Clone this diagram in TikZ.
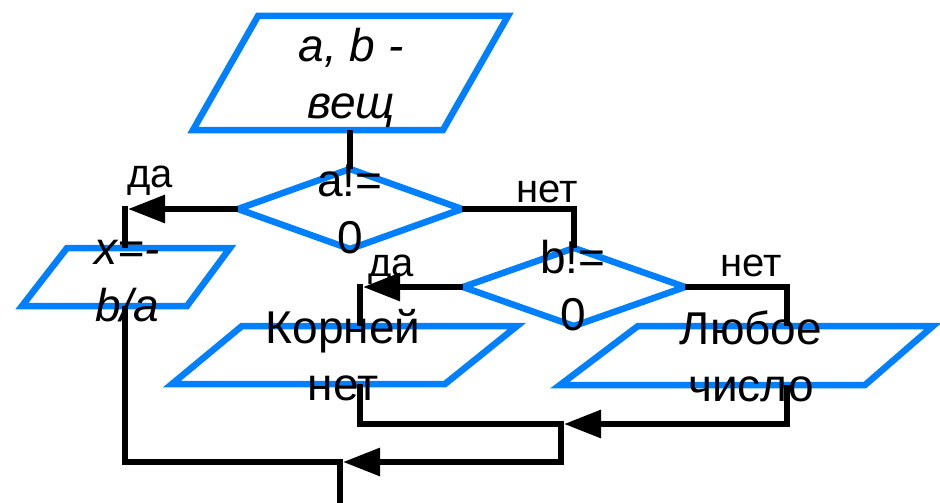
\documentclass[tikz,border=0pt]{standalone}
\usepackage{fontspec}
\setmainfont{Liberation Sans}
\usetikzlibrary{arrows.meta}
\definecolor{fblue}{RGB}{0,128,255}
\tikzset{
  shapeline/.style={draw=fblue, line width=6.5pt, line join=miter},
  conn/.style={draw=black, line width=6pt},
  arr/.style={conn, -{Triangle[length=37pt,width=27pt]}},
  maintxt/.style={anchor=base, align=center, inner sep=0pt, font={\fontsize{46}{57}\selectfont}},
  lbl/.style={anchor=base, inner sep=0pt, font={\fontsize{40}{48}\selectfont}}
}
\begin{document}
\begin{tikzpicture}[x=1pt,y=-1pt]
\useasboundingbox (0,0) rectangle (940,503);
% shapes
\draw[shapeline] (258,16) -- (508,16) -- (443,130) -- (193,130) -- cycle;
\draw[shapeline] (238,209) -- (350,169) -- (462,209) -- (350,249) -- cycle;
\draw[shapeline] (463,287) -- (574,248) -- (685,287) -- (574,326) -- cycle;
\draw[shapeline] (67,248) -- (230,248) -- (187,306) -- (22,306) -- cycle;
\draw[shapeline] (242,326) -- (517,326) -- (445,384) -- (172,384) -- cycle;
\draw[shapeline] (638,326) -- (933,326) -- (865,385) -- (560,385) -- cycle;
% connection points
\coordinate (inB) at (350,130);
\coordinate (d1t) at (350,169);
\coordinate (d1l) at (238,209);
\coordinate (d1r) at (462,209);
\coordinate (c1a) at (128,209);
\coordinate (c1) at (125,209);
\coordinate (xT) at (125,248);
\coordinate (xB) at (125,306);
\coordinate (d2t) at (574,248);
\coordinate (d2l) at (463,287);
\coordinate (d2r) at (685,287);
\coordinate (c2a) at (363,287);
\coordinate (c2) at (360,287);
\coordinate (kT) at (360,326);
\coordinate (kB) at (360,384);
\coordinate (lT) at (787,326);
\coordinate (lB) at (787,385);
\coordinate (j1) at (561,424);
\coordinate (j1a) at (564,424);
\coordinate (j2) at (340,462);
\coordinate (j2a) at (343,462);
\coordinate (out) at (340,503);
% connectors
\draw[conn] (inB) -- (d1t);
\draw[arr] (d1l) -- (c1a);
\draw[conn] ([yshift=3pt]c1) -- (xT);
\draw[conn] (d1r) -| (d2t);
\draw[arr] (d2l) -- (c2a);
\draw[conn] ([yshift=3pt]c2) -- (kT);
\draw[conn] (d2r) -| (lT);
\draw[conn] (kB) |- (j1);
\draw[arr] (lB) |- (j1a);
\draw[arr] ([yshift=3pt]j1) |- (j2a);
\draw[conn] (xB) |- (j2);
\draw[conn] ([yshift=3pt]j2) -- (out);
% texts (anchor = baseline of the last line)
\node[maintxt] (tin) at (351,118) {\itshape a, b -\\\itshape вещ};
\node[maintxt] (ta) at (350,253) {a!=\\0};
\node[maintxt] (tb) at (573,330) {b!=\\0};
\node[maintxt] (tx) at (127,321) {\itshape x=-\\\itshape b/a};
\node[maintxt] (tk) at (343,400) {Корней\\нет};
\node[maintxt] (tl) at (751,401) {Любое\\число};
\node[lbl] (l1) at (150,187) {да};
\node[lbl] (l2) at (547,202) {нет};
\node[lbl] (l3) at (391,276) {да};
\node[lbl] (l4) at (751,276) {нет};
\end{tikzpicture}
\end{document}
